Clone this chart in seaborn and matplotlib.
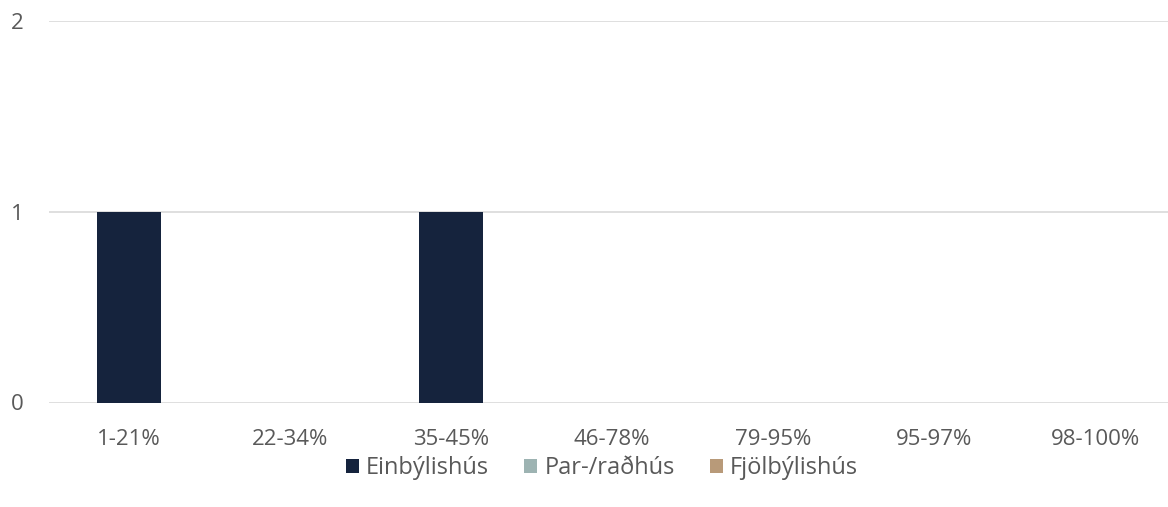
import matplotlib
matplotlib.use("Agg")
import matplotlib.pyplot as plt
import seaborn as sns
import pandas as pd
from matplotlib.patches import Patch

categories = ["1-21%", "22-34%", "35-45%", "46-78%", "79-95%", "95-97%", "98-100%"]
series_names = ["Einbýlishús", "Par-/raðhús", "Fjölbýlishús"]
einbyli = [1, 0, 1, 0, 0, 0, 0]
parrad = [0, 0, 0, 0, 0, 0, 0]
fjolbyli = [0, 0, 0, 0, 0, 0, 0]
colors = ["#15233d", "#9db3b2", "#b89a79"]

rows = []
for name, vals in zip(series_names, [einbyli, parrad, fjolbyli]):
    for c, v in zip(categories, vals):
        rows.append({"cat": c, "series": name, "value": v})
df = pd.DataFrame(rows)

sns.set_style("white")
plt.rcParams['font.family'] = ['Open Sans', 'DejaVu Sans']

W, H = 1168, 507
fig = plt.figure(figsize=(W / 100, H / 100), dpi=100)
left, right_edge = 48.5, 1168
top, bottom = 21, 402.5
ax = fig.add_axes([left / W, (H - bottom) / H, (right_edge - left) / W, (bottom - top) / H])

sns.barplot(data=df, x="cat", y="value", hue="series", order=categories,
            hue_order=series_names, palette=colors, dodge=False, width=0.4,
            legend=False, ax=ax, saturation=1, linewidth=0)

step = 161.0
ax.set_xlim(-0.5, -0.5 + (right_edge - left) / step)
ax.set_ylim(0, 2)
ax.set_yticks([0, 1, 2])
ax.yaxis.grid(True, color="#d9d9d9", linewidth=1.2)
ax.set_axisbelow(True)
for s in ax.spines.values():
    s.set_visible(False)
ax.set_xlabel("")
ax.set_ylabel("")
ax.tick_params(axis="both", length=0, labelsize=16, colors="#595959")
ax.tick_params(axis="x", pad=19)
ax.tick_params(axis="y", pad=18)

handles = [Patch(facecolor=c, edgecolor="none") for c in colors]
fig.legend(handles, series_names, loc="center", bbox_to_anchor=(602 / W, 1 - 468 / H),
           ncol=3, frameon=False, fontsize=17, handlelength=0.55, handleheight=0.55,
           handletextpad=0.3, columnspacing=1.5, labelcolor="#595959")

fig.savefig("out.png", dpi=100)
